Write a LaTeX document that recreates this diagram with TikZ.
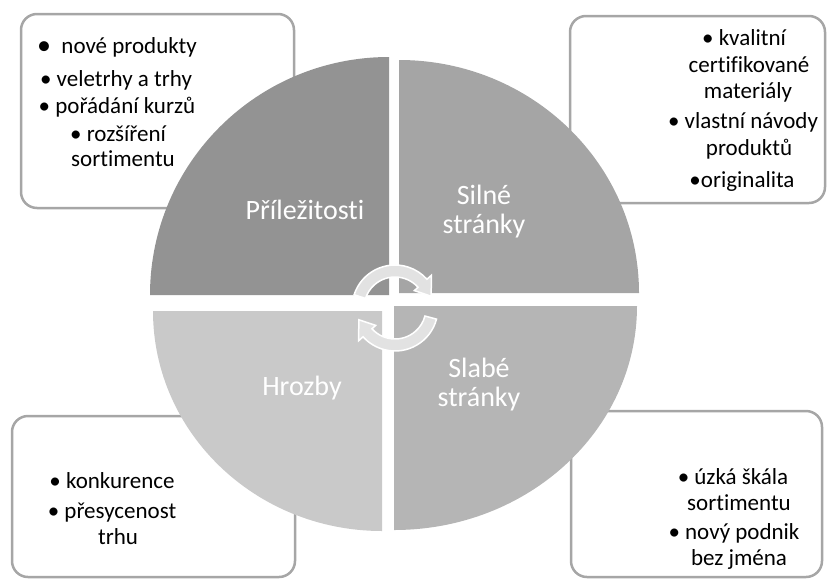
\documentclass[tikz,border=0pt]{standalone}
\usepackage{fontspec}
\setmainfont{Carlito}[Ligatures={NoCommon}]
\usetikzlibrary{calc}
\definecolor{qTL}{HTML}{939393}
\definecolor{qTR}{HTML}{A5A5A5}
\definecolor{qBR}{HTML}{B5B5B5}
\definecolor{qBL}{HTML}{C9C9C9}
\definecolor{boxgray}{HTML}{A6A6A6}
\definecolor{arrowfill}{HTML}{E2E2E2}
\tikzset{
  boxframe/.style={draw=boxgray, line width=2.5pt, fill=white, rounded corners=16pt},
  listtext/.style={anchor=base, inner sep=0pt, text=black, font=\fontsize{23}{26}\selectfont},
  quadlabel/.style={anchor=base, inner sep=0pt, text=white, font=\fontsize{28}{30}\selectfont},
  cyclearrow/.style={fill=arrowfill, draw=white, line width=1.5pt}
}
\begin{document}
\begin{tikzpicture}[x=1pt,y=-1pt]
\useasboundingbox (0,0) rectangle (827,579);
% text boxes behind the circle
\draw[boxframe] (21,14) rectangle (294,208);
\draw[boxframe] (570,16) rectangle (825,203);
\draw[boxframe] (12,416) rectangle (295,577);
\draw[boxframe] (571,411) rectangle (822,577);
% quadrants
\fill[qTL] (389,295) -- (150,295) arc[start angle=180, end angle=270, x radius=239, y radius=238] -- cycle;
\fill[qTR] (399,293) -- (399,60) arc[start angle=270, end angle=360, x radius=240, y radius=233] -- cycle;
\fill[qBR] (394,306) -- (637,306) arc[start angle=0, end angle=90, x radius=243, y radius=224] -- cycle;
\fill[qBL] (382,311) -- (382,531) arc[start angle=90, end angle=180, x radius=229, y radius=220] -- cycle;
% quadrant labels
\node[quadlabel] (opp) at (305,219) {Příležitosti};
\node[quadlabel] (str1) at (484,204) {Silné};
\node[quadlabel] (str2) at (484,233) {stránky};
\node[quadlabel] (thr) at (302,395) {Hrozby};
\node[quadlabel] (wk1) at (479,377) {Slabé};
\node[quadlabel] (wk2) at (479,406) {stránky};
% cycle arrows
\coordinate (c) at (395,308);
\filldraw[cyclearrow] ($(c)+(198:43)$) arc[start angle=198, end angle=318, radius=43]
  -- ($(c)+(318:49)$) -- ($(c)+(342:38)$) -- ($(c)+(318:26)$) -- ($(c)+(318:31)$)
  arc[start angle=318, end angle=198, radius=31] -- cycle;
\filldraw[cyclearrow] ($(c)+(15:43)$) arc[start angle=15, end angle=138, radius=43]
  -- ($(c)+(138:49)$) -- ($(c)+(162:38)$) -- ($(c)+(138:26)$) -- ($(c)+(138:31)$)
  arc[start angle=138, end angle=15, radius=31] -- cycle;
% top-left box text
\node[listtext] (tl1) at (117,53) {\raisebox{-1.5pt}{\fontsize{28}{28}\selectfont •}\ \ nové produkty};
\node[listtext] (tl2) at (116,86) {• veletrhy a trhy};
\node[listtext] (tl3) at (117,113) {• pořádání kurzů};
\node[listtext] (tl4) at (118,141) {• rozšíření};
\node[listtext] (tl5) at (123,166) {sortimentu};
% top-right box text
\node[listtext] (tr1) at (744,45) {• kvalitní};
\node[listtext] (tr2) at (749,72) {certifikované};
\node[listtext] (tr3) at (748,98) {materiály};
\node[listtext] (tr4) at (743,128) {• vlastní návody};
\node[listtext] (tr5) at (749,155) {produktů};
\node[listtext] (tr6) at (742,187) {•originalita};
% bottom-left box text
\node[listtext] (bl1) at (112,488) {• konkurence};
\node[listtext] (bl2) at (112,518) {• přesycenost};
\node[listtext] (bl3) at (118,544) {trhu};
% bottom-right box text
\node[listtext] (br1) at (733,484) {• úzká škála};
\node[listtext] (br2) at (739,510) {sortimentu};
\node[listtext] (br3) at (734,539) {• nový podnik};
\node[listtext] (br4) at (739,565) {bez jména};
\end{tikzpicture}
\end{document}
